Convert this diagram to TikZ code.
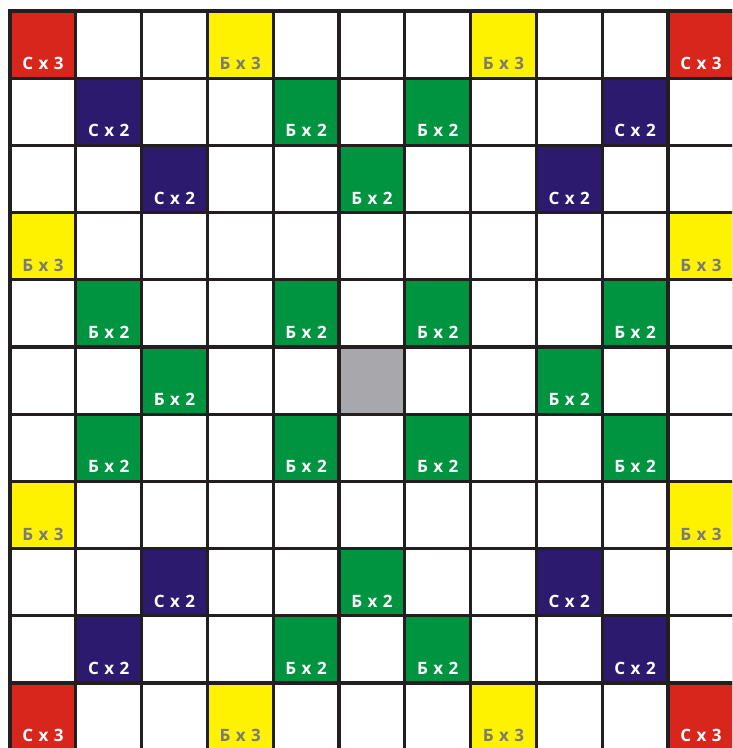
\documentclass[tikz,border=0pt]{standalone}
\usepackage{fontspec}
\newfontfamily\labfont{Open Sans}[LetterSpace=6]
\definecolor{cred}{HTML}{D9261C}
\definecolor{cblue}{HTML}{2B1A6E}
\definecolor{cgreen}{HTML}{009340}
\definecolor{cyellow}{HTML}{FFF200}
\definecolor{cgray}{HTML}{A8A7AC}
\definecolor{ctext}{HTML}{7A7A7A}
\definecolor{cline}{HTML}{231F20}
\tikzset{
  lbl/.style={anchor=base, inner sep=0pt, font=\labfont\bfseries\fontsize{17}{17}\selectfont},
  gridline/.style={draw=cline, line width=3.2pt, line cap=rect}
}
\def\cw{65.8}
\def\ch{67.2}
\begin{document}
\begin{tikzpicture}[x=1pt,y=-1pt]
\useasboundingbox (0,0) rectangle (732,748);
\clip (0,0) rectangle (732,748);
\fill[white] (0,0) rectangle (732,748);
% red
\foreach \c/\r in {0/0,10/0,0/10,10/10}{
  \fill[cred] ({10+\cw*\c},{11+\ch*\r}) rectangle ++(\cw,\ch);
  \node[lbl,text=white] (r-\c-\r) at ({10+\cw*(\c+0.5)},{11+\ch*(\r+1)-8.5}) {С х 3};
}
% yellow
\foreach \c/\r in {3/0,7/0,0/3,10/3,0/7,10/7,3/10,7/10}{
  \fill[cyellow] ({10+\cw*\c},{11+\ch*\r}) rectangle ++(\cw,\ch);
  \node[lbl,text=ctext] (y-\c-\r) at ({10+\cw*(\c+0.5)},{11+\ch*(\r+1)-8.5}) {Б х 3};
}
% blue
\foreach \c/\r in {1/1,9/1,2/2,8/2,2/8,8/8,1/9,9/9}{
  \fill[cblue] ({10+\cw*\c},{11+\ch*\r}) rectangle ++(\cw,\ch);
  \node[lbl,text=white] (b-\c-\r) at ({10+\cw*(\c+0.5)},{11+\ch*(\r+1)-8.5}) {С х 2};
}
% green
\foreach \c/\r in {4/1,6/1,5/2,1/4,4/4,6/4,9/4,2/5,8/5,1/6,4/6,6/6,9/6,5/8,4/9,6/9}{
  \fill[cgreen] ({10+\cw*\c},{11+\ch*\r}) rectangle ++(\cw,\ch);
  \node[lbl,text=white] (g-\c-\r) at ({10+\cw*(\c+0.5)},{11+\ch*(\r+1)-8.5}) {Б х 2};
}
% centre
\fill[cgray] ({10+\cw*5},{11+\ch*5}) rectangle ++(\cw,\ch);
% grid
\foreach \i in {0,...,11}{
  \draw[gridline] ({10+\cw*\i},11) -- ({10+\cw*\i},{11+\ch*11});
  \draw[gridline] (10,{11+\ch*\i}) -- ({10+\cw*11},{11+\ch*\i});
}
\end{tikzpicture}
\end{document}
